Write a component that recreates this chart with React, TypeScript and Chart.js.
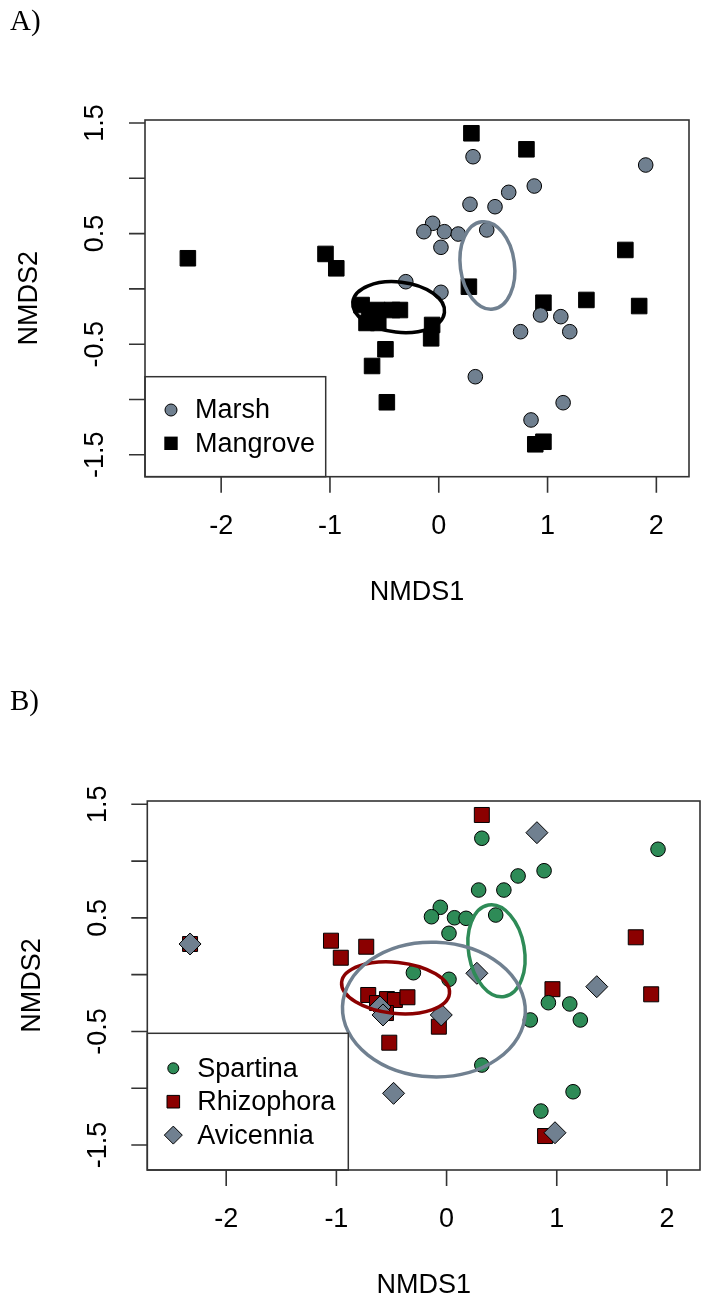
import React, { useEffect, useRef } from "react";
import { Chart, registerables } from "chart.js";

Chart.register(...registerables);

// ---------------- Panel A data ----------------
const marshX = [0.315, 1.902, 0.878, 0.643, 0.287, 0.517, -0.056, -0.137, 0.052, 0.179, 0.441, 0.02, -0.303, 0.02, 0.935, 1.122, 0.752, 1.204, 0.336, 1.143, 0.848];
const marshY = [1.195, 1.12, 0.93, 0.873, 0.765, 0.743, 0.593, 0.517, 0.517, 0.496, 0.533, 0.376, 0.065, -0.031, -0.236, -0.251, -0.387, -0.387, -0.794, -1.029, -1.185];
const mangroveX = [-2.306, -1.041, -0.942, 0.3, 0.806, 1.715, 0.277, 0.962, 1.357, 1.842, -0.061, -0.07, -0.49, -0.613, -0.477, 0.887, 0.962, -0.709, -0.565, -0.429, -0.357, -0.664, -0.556, -0.637];
const mangroveY = [0.277, 0.316, 0.186, 1.407, 1.262, 0.352, 0.02, -0.125, -0.1, -0.155, -0.326, -0.447, -0.546, -0.697, -1.025, -1.405, -1.382, -0.146, -0.191, -0.191, -0.191, -0.308, -0.308, -0.227];
// ellipse: [centerX, centerY, radiusX, radiusY, tiltDeg]
const marshEllipse = [0.447, 0.212, 0.249, 0.398, -7.5];
const mangroveEllipse = [-0.369, -0.165, 0.424, 0.227, 6.6];

// ---------------- Panel B data ----------------
const spartinaX = [0.32, 1.919, 0.885, 0.649, 0.291, 0.52, -0.057, -0.137, 0.072, 0.177, 0.446, 0.022, 0.022, -0.301, 0.924, 1.118, 1.214, 0.76, 0.32, 1.148, 0.856];
const spartinaY = [1.201, 1.104, 0.915, 0.869, 0.745, 0.745, 0.593, 0.51, 0.501, 0.496, 0.525, 0.364, -0.041, 0.017, -0.247, -0.258, -0.399, -0.399, -0.796, -1.031, -1.201];
const rhizophoraX = [-2.328, -1.049, -0.96, -0.729, -0.711, -0.631, -0.541, -0.469, -0.355, -0.55, -0.07, -0.52, 0.32, 1.717, 0.961, 1.857, 0.894];
const rhizophoraY = [0.27, 0.299, 0.149, 0.246, -0.179, -0.25, -0.215, -0.223, -0.199, -0.338, -0.458, -0.599, 1.406, 0.329, -0.128, -0.173, -1.421];
const avicenniaX = [-2.328, 0.82, 0.275, 1.363, -0.048, 0.984, -0.481, -0.604, -0.577];
const avicenniaY = [0.27, 1.25, 0.012, -0.106, -0.355, -1.392, -1.045, -0.285, -0.355];
const spartinaEllipse = [0.453, 0.21, 0.253, 0.409, -10];
const rhizophoraEllipse = [-0.463, -0.116, 0.492, 0.225, 6];
const avicenniaEllipse = [-0.115, -0.307, 0.83, 0.593, 2];

// ---------------- Axes ----------------
const xTicks = [-2, -1, 0, 1, 2];
const xTickLabels = ["-2", "-1", "0", "1", "2"];
const yTicks = [-1.5, -1, -0.5, 0, 0.5, 1, 1.5];
const yLabelTicks = [-1.5, -0.5, 0.5, 1.5];
const yTickLabels = ["-1.5", "-0.5", "0.5", "1.5"];
const xTitle = "NMDS1";
const yTitle = "NMDS2";

const SLATE = "#708090";
const GREEN = "#2E8B57";
const DARKRED = "#8B0000";
const SANS = '"Liberation Sans", Arial, sans-serif';
const SERIF = '"Liberation Serif", "Times New Roman", serif';

const pts = (xs: number[], ys: number[]) => xs.map((x, i) => ({ x, y: ys[i] }));

type LegendItem = { label: string; shape: string; fill: string; size: number; border: boolean };

function drawSymbol(ctx: CanvasRenderingContext2D, shape: string, x: number, y: number, s: number, fill: string, border: boolean) {
  ctx.beginPath();
  if (shape === "circle") ctx.arc(x, y, s, 0, Math.PI * 2);
  else if (shape === "square") ctx.rect(x - s, y - s, 2 * s, 2 * s);
  else {
    ctx.moveTo(x, y - s);
    ctx.lineTo(x + s, y);
    ctx.lineTo(x, y + s);
    ctx.lineTo(x - s, y);
    ctx.closePath();
  }
  ctx.fillStyle = fill;
  ctx.fill();
  if (border) {
    ctx.lineWidth = 1;
    ctx.strokeStyle = "#000";
    ctx.stroke();
  }
}

function makeOverlay(o: {
  ellipses: { p: number[]; color: string }[];
  legend: LegendItem[];
  legendW: number;
  legendH: number;
  rowTop: number;
  rowGap: number;
  label: string;
  labelY: number;
}) {
  return {
    id: "rOverlay",
    afterDatasetsDraw(chart: any) {
      const { ctx } = chart;
      const xs = chart.scales.x;
      const ys = chart.scales.y;
      ctx.save();
      for (const e of o.ellipses) {
        const [cx, cy, rx, ry, ang] = e.p;
        const px = xs.getPixelForValue(cx);
        const py = ys.getPixelForValue(cy);
        const rxp = Math.abs(xs.getPixelForValue(cx + rx) - px);
        const ryp = Math.abs(ys.getPixelForValue(cy + ry) - py);
        ctx.beginPath();
        ctx.ellipse(px, py, rxp, ryp, (ang * Math.PI) / 180, 0, Math.PI * 2);
        ctx.strokeStyle = e.color;
        ctx.lineWidth = 3.5;
        ctx.stroke();
      }
      ctx.restore();
    },
    afterDraw(chart: any) {
      const { ctx, chartArea: ca } = chart;
      const xs = chart.scales.x;
      const ys = chart.scales.y;
      ctx.save();
      // legend
      const lx = ca.left;
      const ly = ca.bottom - o.legendH;
      ctx.fillStyle = "#fff";
      ctx.fillRect(lx, ly, o.legendW, o.legendH);
      ctx.strokeStyle = "#333";
      ctx.lineWidth = 1.5;
      ctx.strokeRect(lx, ly, o.legendW, o.legendH);
      ctx.font = `27px ${SANS}`;
      ctx.textBaseline = "middle";
      ctx.textAlign = "left";
      o.legend.forEach((it, i) => {
        const y = ly + o.rowTop + i * o.rowGap;
        drawSymbol(ctx, it.shape, lx + 26, y, it.size, it.fill, it.border);
        ctx.fillStyle = "#000";
        ctx.fillText(it.label, lx + 50, y + 1);
      });
      // box
      ctx.strokeStyle = "#333";
      ctx.lineWidth = 1.6;
      ctx.strokeRect(ca.left, ca.top, ca.right - ca.left, ca.bottom - ca.top);
      // ticks
      ctx.beginPath();
      xTicks.forEach((v) => {
        const p = xs.getPixelForValue(v);
        ctx.moveTo(p, ca.bottom);
        ctx.lineTo(p, ca.bottom + 16);
      });
      yTicks.forEach((v) => {
        const p = ys.getPixelForValue(v);
        ctx.moveTo(ca.left, p);
        ctx.lineTo(ca.left - 16, p);
      });
      ctx.stroke();
      ctx.fillStyle = "#000";
      ctx.font = `27px ${SANS}`;
      ctx.textAlign = "center";
      ctx.textBaseline = "middle";
      xTicks.forEach((v, i) => {
        ctx.fillText(xTickLabels[i], xs.getPixelForValue(v), ca.bottom + 50);
      });
      yLabelTicks.forEach((v, i) => {
        ctx.save();
        ctx.translate(ca.left - 49, ys.getPixelForValue(v));
        ctx.rotate(-Math.PI / 2);
        ctx.fillText(yTickLabels[i], 0, 0);
        ctx.restore();
      });
      // titles
      ctx.fillText(xTitle, (ca.left + ca.right) / 2, ca.bottom + 116);
      ctx.save();
      ctx.translate(ca.left - 115, (ca.top + ca.bottom) / 2);
      ctx.rotate(-Math.PI / 2);
      ctx.fillText(yTitle, 0, 0);
      ctx.restore();
      // panel label
      ctx.font = `29px ${SERIF}`;
      ctx.textAlign = "left";
      ctx.textBaseline = "alphabetic";
      ctx.fillText(o.label, 10, o.labelY);
      ctx.restore();
    },
  };
}

function baseOptions(pad: any, xMin: number, xMax: number, yMin: number, yMax: number) {
  return {
    responsive: false,
    animation: false as const,
    devicePixelRatio: 1,
    events: [] as any[],
    layout: { padding: pad },
    plugins: { legend: { display: false }, tooltip: { enabled: false }, title: { display: false } },
    scales: {
      x: { type: "linear" as const, min: xMin, max: xMax, display: false },
      y: { type: "linear" as const, min: yMin, max: yMax, display: false },
    },
  };
}

export default function App() {
  const refA = useRef<HTMLCanvasElement>(null);
  const refB = useRef<HTMLCanvasElement>(null);

  useEffect(() => {
    const chartA = new Chart(refA.current as HTMLCanvasElement, {
      type: "scatter",
      data: {
        datasets: [
          {
            label: "Marsh",
            data: pts(marshX, marshY),
            pointStyle: "circle",
            pointRadius: 7.3,
            pointBackgroundColor: SLATE,
            pointBorderColor: "#000",
            pointBorderWidth: 1,
            order: 0,
          },
          {
            label: "Mangrove",
            data: pts(mangroveX, mangroveY),
            pointStyle: "rect",
            pointRadius: 11,
            pointBackgroundColor: "#000",
            pointBorderColor: "#000",
            pointBorderWidth: 1,
            order: 1,
          },
        ],
      },
      options: baseOptions({ left: 145, right: 3.3, top: 120, bottom: 173.3 }, -2.7, 2.3, -1.698, 1.527) as any,
      plugins: [
        makeOverlay({
          ellipses: [
            { p: marshEllipse, color: SLATE },
            { p: mangroveEllipse, color: "#000" },
          ],
          legend: [
            { label: "Marsh", shape: "circle", fill: SLATE, size: 6, border: true },
            { label: "Mangrove", shape: "square", fill: "#000", size: 6.7, border: false },
          ],
          legendW: 180.7,
          legendH: 100,
          rowTop: 33.3,
          rowGap: 33.3,
          label: "A)",
          labelY: 29.5,
        }),
      ],
    });

    const chartB = new Chart(refB.current as HTMLCanvasElement, {
      type: "scatter",
      data: {
        datasets: [
          {
            label: "Spartina",
            data: pts(spartinaX, spartinaY),
            pointStyle: "circle",
            pointRadius: 7.3,
            pointBackgroundColor: GREEN,
            pointBorderColor: "#000",
            pointBorderWidth: 1,
            order: 0,
          },
          {
            label: "Rhizophora",
            data: pts(rhizophoraX, rhizophoraY),
            pointStyle: "rect",
            pointRadius: 10.6,
            pointBackgroundColor: DARKRED,
            pointBorderColor: "#000",
            pointBorderWidth: 1,
            order: 2,
          },
          {
            label: "Avicennia",
            data: pts(avicenniaX, avicenniaY),
            pointStyle: "rectRot",
            pointRadius: 11,
            pointBackgroundColor: SLATE,
            pointBorderColor: "#000",
            pointBorderWidth: 1,
            order: 1,
          },
        ],
      },
      options: baseOptions({ left: 147.3, right: 5.2, top: 151, bottom: 138 }, -2.716, 2.3, -1.72, 1.529) as any,
      plugins: [
        makeOverlay({
          ellipses: [
            { p: spartinaEllipse, color: GREEN },
            { p: rhizophoraEllipse, color: DARKRED },
            { p: avicenniaEllipse, color: SLATE },
          ],
          legend: [
            { label: "Spartina", shape: "circle", fill: GREEN, size: 5.5, border: true },
            { label: "Rhizophora", shape: "square", fill: DARKRED, size: 6.3, border: true },
            { label: "Avicennia", shape: "diamond", fill: SLATE, size: 9, border: true },
          ],
          legendW: 201,
          legendH: 136.7,
          rowTop: 35,
          rowGap: 33.4,
          label: "B)",
          labelY: 59.5,
        }),
      ],
    });

    return () => {
      chartA.destroy();
      chartB.destroy();
    };
  }, []);

  return (
    <div style={{ position: "absolute", left: 0, top: 0, width: 701, height: 1308, overflow: "hidden", background: "#fff" }}>
      <canvas ref={refA} width={701} height={650} style={{ position: "absolute", left: 0, top: 0, display: "block" }} />
      <canvas ref={refB} width={712} height={658} style={{ position: "absolute", left: 0, top: 650, display: "block" }} />
    </div>
  );
}
